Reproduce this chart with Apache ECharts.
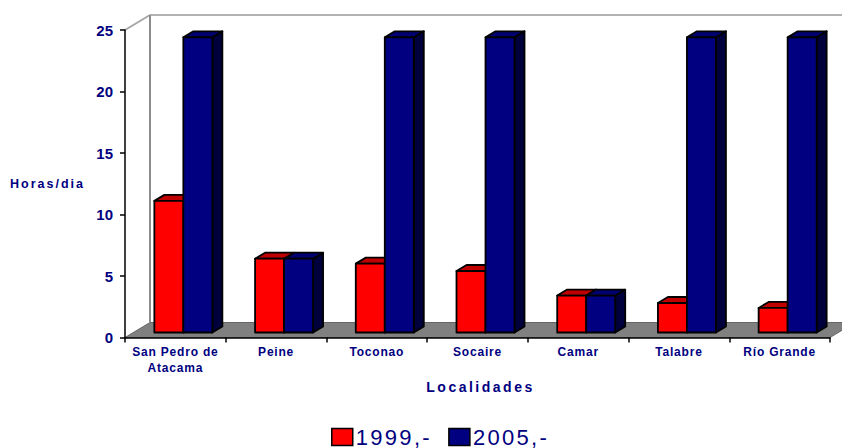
<!DOCTYPE html>
<html>
<head>
<meta charset="utf-8">
<style>
html, body { margin: 0; padding: 0; background: #fff; }
#chart { width: 842px; height: 448px; }
/* echarts has no letter spacing option, so set it on the svg text by font size */
text[style*="12px"] { letter-spacing: 0.8px; }
text[style*="12.5px"] { letter-spacing: 2px; }
text[style*="14px"] { letter-spacing: 2.5px; }
text[style*="22px"] { letter-spacing: 2.3px; }
</style>
<script src="https://cdn.jsdelivr.net/npm/echarts@6/dist/echarts.min.js"></script>
</head>
<body>
<div id="chart"></div>
<script>
const categories = ['San Pedro de\nAtacama', 'Peine', 'Toconao', 'Socaire', 'Camar', 'Talabre', 'Río Grande'];
const values1999 = [10.7, 6, 5.6, 5, 3, 2.4, 2];
const values2005 = [24, 6, 24, 24, 3, 24, 24];
const yTicks = { min: 0, max: 25, interval: 5 };

const navy = '#000080';
const font = '"Liberation Sans", Arial, sans-serif';

// 3d look: walls go back 25,15 and bars stand a bit off the front of the floor
const wallDepth = [25, 15];
const barShift = [8, 5];
const barDepth = [10, 6];
const barRatio = 0.288;

function renderWalls(params) {
    const c = params.coordSys;
    const left = c.x, right = c.x + c.width, top = c.y, bottom = c.y + c.height;
    const dx = wallDepth[0], dy = wallDepth[1];
    const line = function (x1, y1, x2, y2, color) {
        return {
            type: 'line',
            shape: { x1: x1, y1: y1, x2: x2, y2: y2 },
            style: { stroke: color, lineWidth: 2, fill: null }
        };
    };
    return {
        type: 'group',
        children: [
            {
                type: 'polygon',
                shape: { points: [[left, bottom], [left + dx, bottom - dy], [right + dx, bottom - dy], [right, bottom]] },
                style: { fill: '#808080', stroke: '#666666', lineWidth: 1 }
            },
            line(left, top, left + dx, top - dy, '#a6a6a6'),
            line(left + dx, top - dy, right + dx, top - dy, '#b2b2b2'),
            line(left + dx, top - dy, left + dx, bottom - dy, '#8c8c8c')
        ]
    };
}

function barRenderer(slot, front, topFace, side) {
    return function (params, api) {
        const idx = api.value(0);
        const p = api.coord([idx, api.value(1)]);
        const base = api.coord([idx, 0]);
        const w = api.size([1, 0])[0] * barRatio;
        const x0 = p[0] + barShift[0] + (slot - 1) * w;
        const x1 = x0 + w;
        const yTop = p[1] - barShift[1];
        const yBase = base[1] - barShift[1];
        const dx = barDepth[0], dy = barDepth[1];
        const edge = { stroke: '#000', lineWidth: 1.8, lineJoin: 'round' };
        return {
            type: 'group',
            children: [
                {
                    type: 'polygon',
                    shape: { points: [[x1, yTop], [x1 + dx, yTop - dy], [x1 + dx, yBase - dy], [x1, yBase]] },
                    style: Object.assign({ fill: side }, edge)
                },
                {
                    type: 'polygon',
                    shape: { points: [[x0, yTop], [x0 + dx, yTop - dy], [x1 + dx, yTop - dy], [x1, yTop]] },
                    style: Object.assign({ fill: topFace }, edge)
                },
                {
                    type: 'rect',
                    shape: { x: x0, y: yTop, width: w, height: yBase - yTop },
                    style: Object.assign({ fill: front }, edge)
                }
            ]
        };
    };
}

function toPairs(values) {
    return values.map(function (v, i) { return [i, v]; });
}

const chart = echarts.init(document.getElementById('chart'), null, { renderer: 'svg' });

chart.setOption({
    animation: false,
    backgroundColor: '#fff',
    textStyle: { fontFamily: font },
    grid: { left: 125, right: 12, top: 30, bottom: 110.5 },
    legend: {
        left: 331,
        top: 426,
        icon: 'rect',
        itemWidth: 21,
        itemHeight: 17,
        itemGap: 30,
        padding: 0,
        data: ['1999,-', '2005,-'],
        itemStyle: { borderColor: '#000', borderWidth: 1.5 },
        textStyle: { fontFamily: font, fontSize: 22, color: navy, padding: [0, 0, 0, -2] }
    },
    xAxis: {
        type: 'category',
        data: categories,
        z: 5,
        name: 'Localidades',
        nameLocation: 'middle',
        nameGap: 42,
        nameTextStyle: { fontFamily: font, fontSize: 14, fontWeight: 'bold', color: navy, padding: [0, 0, 0, 6] },
        axisLine: { lineStyle: { color: '#000', width: 1.5 } },
        axisTick: { show: true, alignWithLabel: false, length: 5, lineStyle: { color: '#000', width: 1.5 } },
        axisLabel: { interval: 0, margin: 6, lineHeight: 16, fontFamily: font, fontSize: 12, fontWeight: 'bold', color: navy },
        splitLine: { show: false }
    },
    yAxis: {
        type: 'value',
        min: yTicks.min,
        max: yTicks.max,
        interval: yTicks.interval,
        z: 5,
        name: 'Horas/dia',
        nameLocation: 'middle',
        nameRotate: 0,
        nameGap: 40,
        nameTextStyle: { fontFamily: font, fontSize: 12.5, fontWeight: 'bold', color: navy },
        axisLine: { show: true, lineStyle: { color: '#000', width: 1.5 } },
        axisTick: { show: true, length: 5, lineStyle: { color: '#000', width: 1.5 } },
        axisLabel: { margin: 12, fontFamily: font, fontSize: 15, fontWeight: 'bold', color: navy },
        splitLine: { show: false }
    },
    series: [
        {
            type: 'custom',
            name: 'walls',
            z: 1,
            silent: true,
            renderItem: renderWalls,
            data: [[0, 0]]
        },
        {
            type: 'custom',
            name: '1999,-',
            z: 2,
            itemStyle: { color: '#ff0000' },
            renderItem: barRenderer(0, '#ff0000', '#c00000', '#800000'),
            encode: { x: 0, y: 1 },
            data: toPairs(values1999)
        },
        {
            type: 'custom',
            name: '2005,-',
            z: 3,
            itemStyle: { color: navy },
            renderItem: barRenderer(1, navy, '#000070', '#00003c'),
            encode: { x: 0, y: 1 },
            data: toPairs(values2005)
        }
    ]
});

window.addEventListener('resize', function () {
    chart.resize();
});
</script>
</body>
</html>
